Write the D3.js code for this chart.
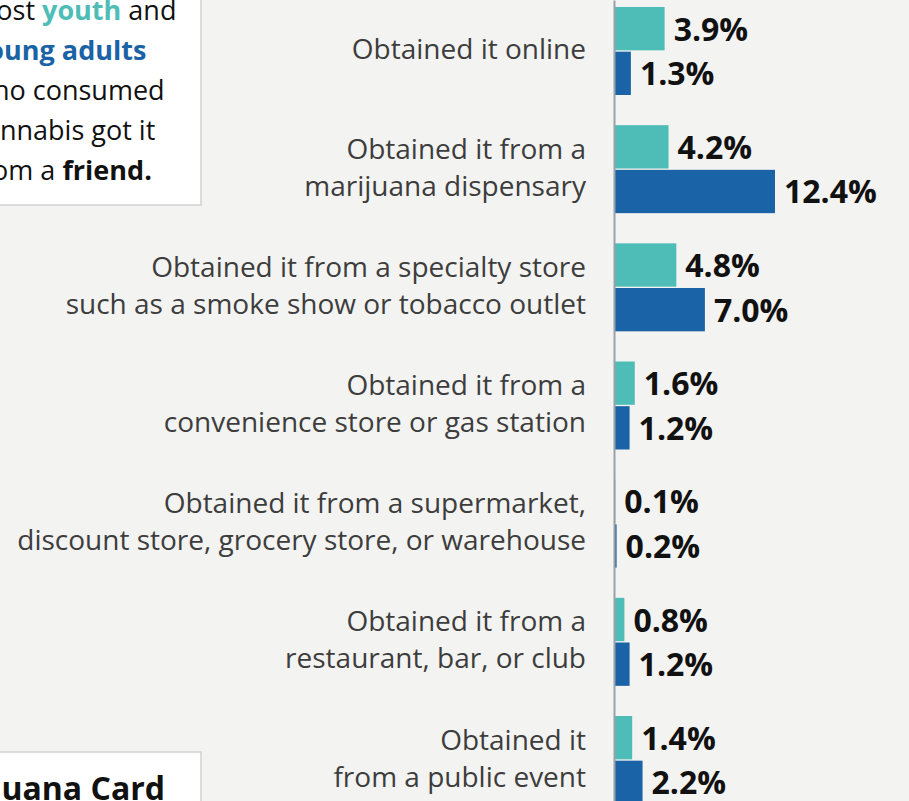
<!DOCTYPE html>
<html>
<head>
<meta charset="utf-8">
<script src="https://cdn.jsdelivr.net/npm/d3@7"></script>
<style>
  html, body { margin: 0; padding: 0; background: #f3f3f1; }
  svg { display: block; }
  text { font-family: "Open Sans", "Noto Sans", sans-serif; }
</style>
</head>
<body>
<svg id="chart" width="909" height="801"></svg>
<script>
// Where cannabis was obtained, by age group (percent)
const categories = [
  ["Obtained it online"],
  ["Obtained it from a", "marijuana dispensary"],
  ["Obtained it from a specialty store", "such as a smoke show or tobacco outlet"],
  ["Obtained it from a", "convenience store or gas station"],
  ["Obtained it from a supermarket,", "discount store, grocery store, or warehouse"],
  ["Obtained it from a", "restaurant, bar, or club"],
  ["Obtained it", "from a public event"]
];
const seriesNames = ["youth", "young adults"];
const youthValues = [3.9, 4.2, 4.8, 1.6, 0.1, 0.8, 1.4];
const youngAdultValues = [1.3, 12.4, 7.0, 1.2, 0.2, 1.2, 2.2];
const seriesColors = ["#4fbdb7", "#1a63a6"];

const calloutLines = [
  [{t: "Most ", c: "#111", w: 400}, {t: "youth", c: "#4fbdb7", w: 700}, {t: " and", c: "#111", w: 400}],
  [{t: "young adults", c: "#1a63a6", w: 700}],
  [{t: "who consumed", c: "#111", w: 400}],
  [{t: "cannabis got it", c: "#111", w: 400}],
  [{t: "from a ", c: "#111", w: 400}, {t: "friend.", c: "#111", w: 700}]
];
const cardTitle = "Marijuana Card";

const svg = d3.select("#chart");
const keys = categories.map(c => c.join(" "));

const rows = keys.map((k, i) => ({
  key: k,
  lines: categories[i],
  values: [youthValues[i], youngAdultValues[i]]
}));

// Scales
const x = d3.scaleLinear().domain([0, 12.4]).range([614, 775]);
const yGroup = d3.scalePoint().domain(keys).range([7, 716]);
const ySeries = d3.scaleBand().domain(seriesNames).range([0, 88]).paddingInner(0.03);
const color = d3.scaleOrdinal().domain(seriesNames).range(seriesColors);

// Callout box (top left)
svg.append("rect")
  .attr("x", -20).attr("y", -20)
  .attr("width", 221).attr("height", 225)
  .attr("fill", "#ffffff").attr("stroke", "#d2d2d2").attr("stroke-width", 1.5);

const callout = svg.append("text")
  .attr("x", -28).attr("y", 20)
  .style("font-size", "27px");
calloutLines.forEach((line, i) => {
  line.forEach((seg, j) => {
    const ts = callout.append("tspan")
      .text(seg.t)
      .attr("fill", seg.c)
      .attr("font-weight", seg.w);
    if (j === 0) ts.attr("x", -28).attr("dy", i === 0 ? 0 : 40);
  });
});

// Card box (bottom left)
svg.append("rect")
  .attr("x", -20).attr("y", 752)
  .attr("width", 221).attr("height", 80)
  .attr("fill", "#ffffff").attr("stroke", "#d2d2d2").attr("stroke-width", 1.5);
svg.append("text")
  .attr("x", 165).attr("y", 800)
  .attr("text-anchor", "end")
  .attr("font-weight", 700)
  .style("font-size", "32px")
  .attr("fill", "#111")
  .text(cardTitle);

// Bars
const groups = svg.selectAll("g.row")
  .data(rows)
  .join("g")
  .attr("class", "row")
  .attr("transform", d => `translate(0,${yGroup(d.key)})`);

groups.selectAll("rect")
  .data(d => d.values.map((v, i) => ({series: seriesNames[i], value: v})))
  .join("rect")
  .attr("x", x(0))
  .attr("y", d => ySeries(d.series))
  .attr("width", d => x(d.value) - x(0))
  .attr("height", ySeries.bandwidth())
  .attr("fill", d => color(d.series));

groups.selectAll("text.value")
  .data(d => d.values.map((v, i) => ({series: seriesNames[i], value: v})))
  .join("text")
  .attr("class", "value")
  .attr("x", d => x(d.value) + 9)
  .attr("y", d => ySeries(d.series) + ySeries.bandwidth() / 2 + 12)
  .attr("font-weight", 700)
  .attr("fill", "#111")
  .style("font-size", "32px")
  .text(d => d3.format(".1f")(d.value) + "%");

// Category labels
const lineGap = 37;
groups.each(function(d) {
  const g = d3.select(this);
  const mid = 44 + 8;
  const n = d.lines.length;
  d.lines.forEach((ln, i) => {
    g.append("text")
      .attr("class", "cat")
      .attr("x", 586)
      .attr("y", mid + (i - (n - 1) / 2) * lineGap)
      .attr("text-anchor", "end")
      .attr("fill", "#3d3d3d")
      .style("font-size", "28px")
      .text(ln);
  });
});

// Axis line
svg.append("g")
  .attr("transform", `translate(${x(0)},0)`)
  .call(d3.axisLeft(d3.scaleLinear().range([0, 801])).ticks(0).tickSize(0))
  .call(g => g.select(".domain").attr("stroke", "#9aa1a8").attr("stroke-width", 2));
</script>
</body>
</html>
